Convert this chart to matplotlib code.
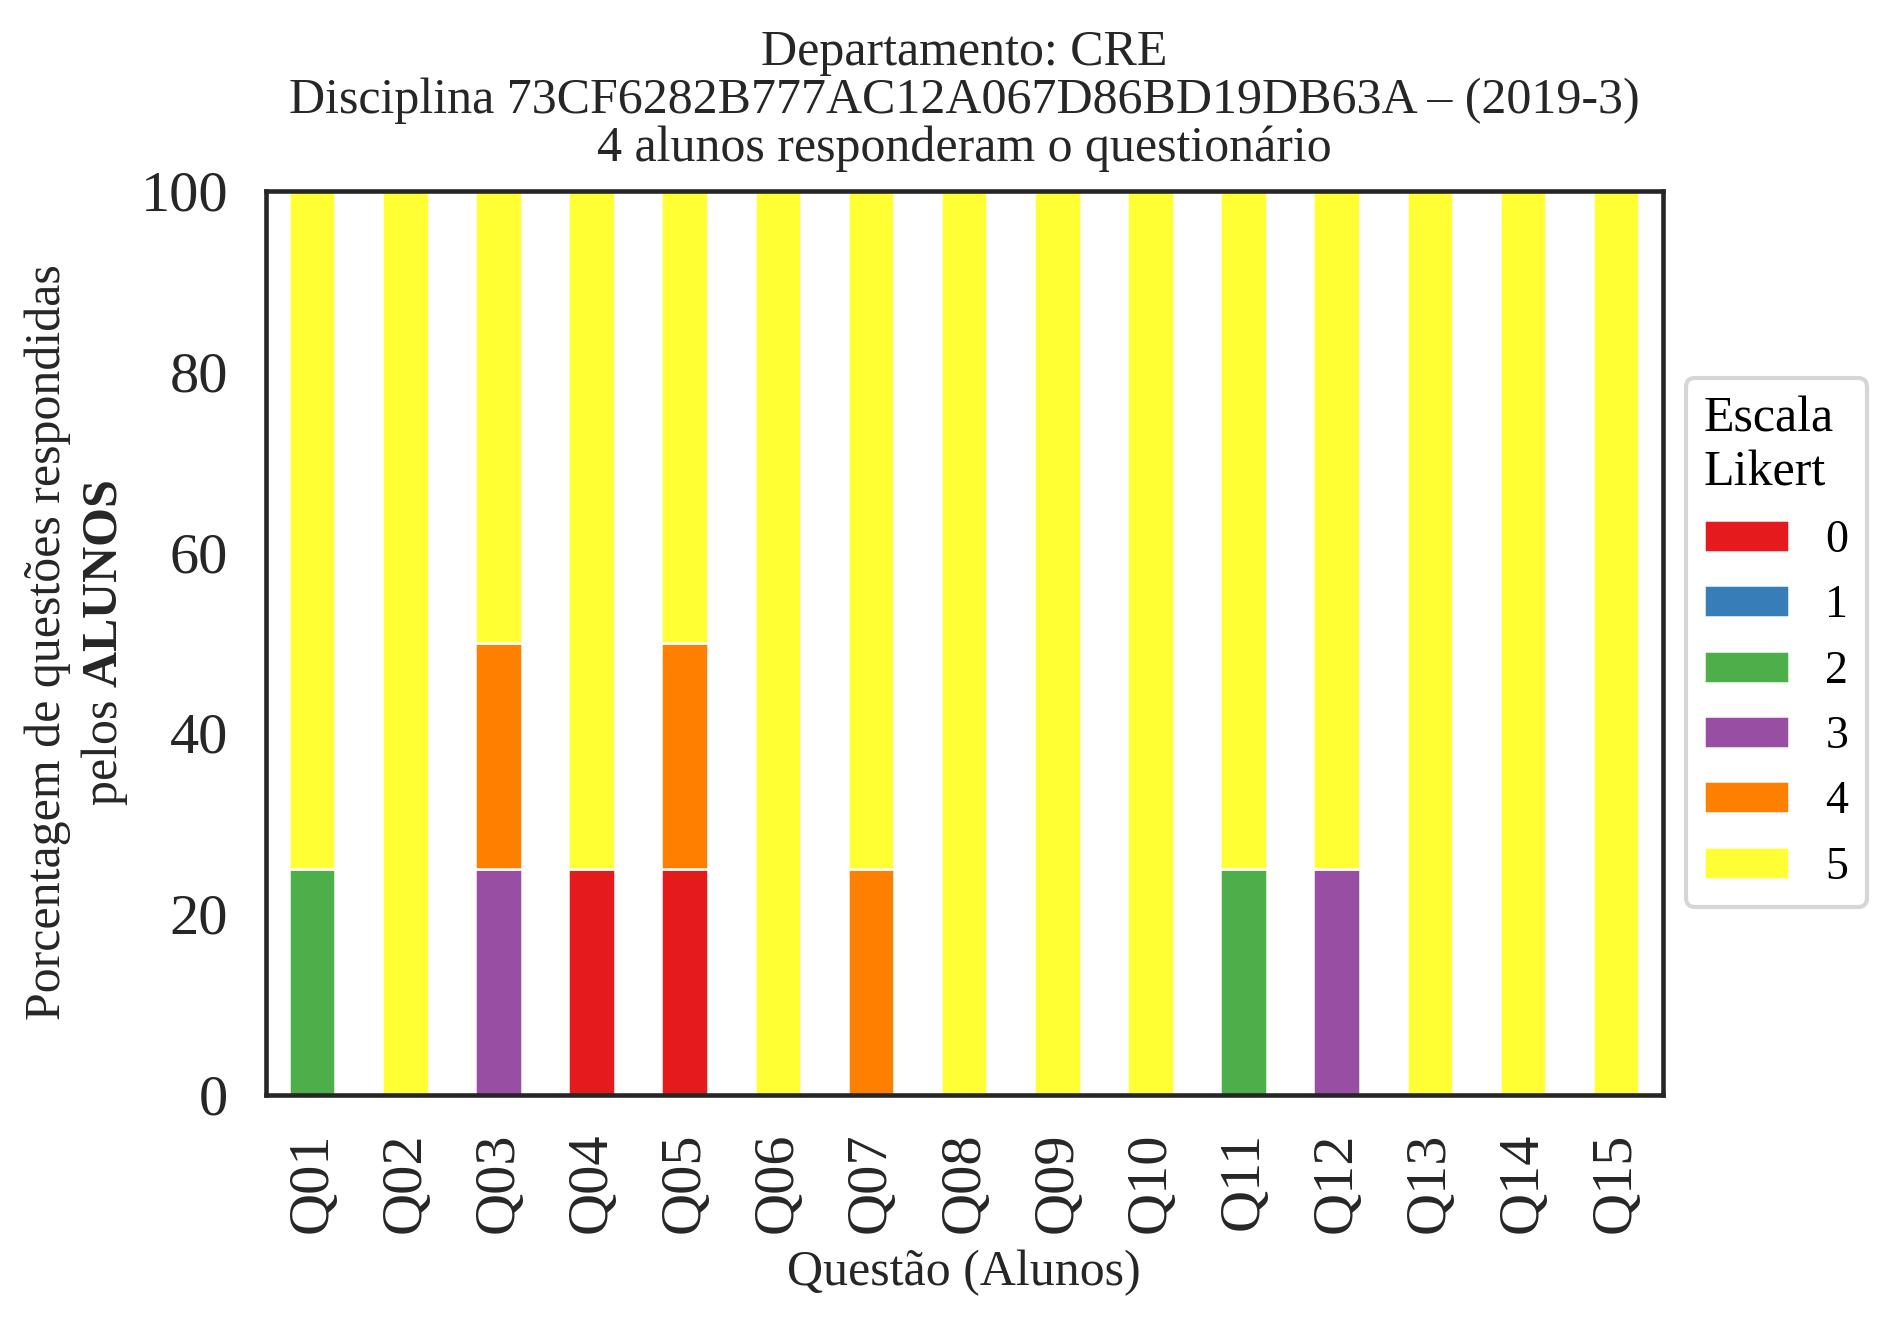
import numpy as np
import pandas as pd
import matplotlib
matplotlib.use("Agg")
import matplotlib.pyplot as plt

plt.rcParams["font.family"] = ["Liberation Serif", "DejaVu Serif"]
plt.rcParams["mathtext.fontset"] = "custom"
plt.rcParams["mathtext.rm"] = "Liberation Serif"
plt.rcParams["mathtext.bf"] = "Liberation Serif:bold"

#-Data (percent of answers per Likert level)-------------------------------#
questoes = ["Q01", "Q02", "Q03", "Q04", "Q05", "Q06", "Q07", "Q08",
            "Q09", "Q10", "Q11", "Q12", "Q13", "Q14", "Q15"]
nivel_0 = [0, 0, 0, 25, 25, 0, 0, 0, 0, 0, 0, 0, 0, 0, 0]
nivel_1 = [0, 0, 0, 0, 0, 0, 0, 0, 0, 0, 0, 0, 0, 0, 0]
nivel_2 = [25, 0, 0, 0, 0, 0, 0, 0, 0, 0, 25, 0, 0, 0, 0]
nivel_3 = [0, 0, 25, 0, 0, 0, 0, 0, 0, 0, 0, 25, 0, 0, 0]
nivel_4 = [0, 0, 25, 0, 25, 0, 25, 0, 0, 0, 0, 0, 0, 0, 0]
nivel_5 = [75, 100, 50, 75, 50, 100, 75, 100, 100, 100, 75, 75, 100, 100, 100]

cores = ["#e41a1c", "#377eb8", "#4daf4a", "#984ea3", "#ff7f00", "#ffff33"]

df = pd.DataFrame({"0": nivel_0, "1": nivel_1, "2": nivel_2,
                   "3": nivel_3, "4": nivel_4, "5": nivel_5}, index=questoes)

#-Plot----------------------------------------------------------------------#
fig = plt.figure(figsize=(1892/300, 1323/300), dpi=300)
ax = fig.add_axes([0.1404, 0.1726, 0.7384, 0.6834])

df.plot(kind="bar", stacked=True, color=cores, width=0.5, ax=ax,
        edgecolor="white", linewidth=0.6, legend=False)

ax.set_ylim(0, 100)
ax.set_xlim(-0.5, len(questoes) - 0.5)
ax.set_yticks([0, 20, 40, 60, 80, 100])
ax.tick_params(axis="both", length=0, labelsize=14, colors="#262626", pad=9)
ax.tick_params(axis="x", rotation=90)
for s in ax.spines.values():
    s.set_color("#262626")
    s.set_linewidth(1.1)

ax.set_xlabel("Questão (Alunos)", fontsize=12, color="#262626", labelpad=4)
ax.set_ylabel("Porcentagem de questões respondidas\npelos $\\mathbf{ALUNOS}$",
              fontsize=12, color="#262626", labelpad=2.5)
ax.set_title("Departamento: CRE\n"
             "Disciplina 73CF6282B777AC12A067D86BD19DB63A – (2019-3)\n"
             "4 alunos responderam o questionário",
             fontsize=12, color="#262626", linespacing=1.05, pad=7)

leg = ax.legend(title="Escala\nLikert", loc="center left",
                bbox_to_anchor=(1.0, 0.5), fontsize=11, title_fontsize=12,
                handlelength=1.85, frameon=True, fancybox=True,
                alignment="left")
leg.get_frame().set_edgecolor("#cccccc")

fig.savefig("out.png", dpi=300)
